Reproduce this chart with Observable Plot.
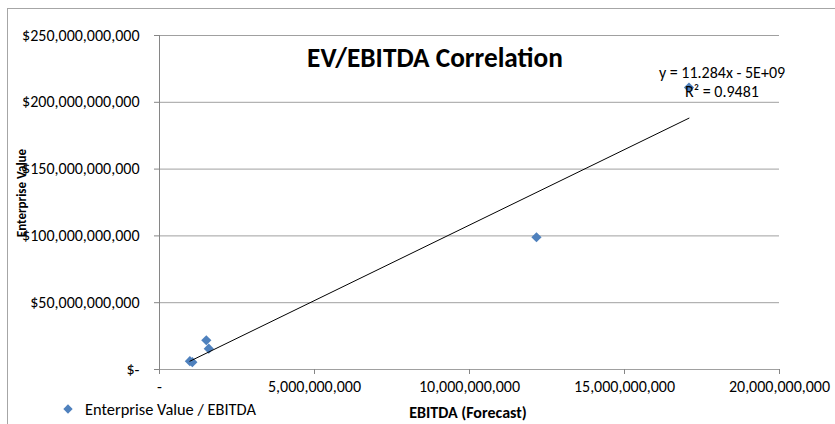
<!DOCTYPE html>
<html>
<head>
<meta charset="utf-8">
<script src="https://cdn.jsdelivr.net/npm/d3@7"></script>
<script src="https://cdn.jsdelivr.net/npm/@observablehq/plot@0.6"></script>
<style>
  html, body { margin: 0; padding: 0; background: #fff; }
  #wrap { position: relative; width: 835px; height: 424px; overflow: hidden; font-family: Carlito, Calibri, Lato, sans-serif; color: #000; }
  #border { position: absolute; left: 7px; top: 8px; width: 900px; height: 500px; border: 1px solid #a6a6a6; box-sizing: border-box; }
  .t { position: absolute; white-space: nowrap; line-height: 1; }
  #chart { position: absolute; left: 0; top: 0; }
</style>
</head>
<body>
<div id="wrap">
  <div id="border"></div>
  <div id="chart"></div>
</div>
<script>
// Data
const ebitda = [0.98e9, 1.06e9, 1.51e9, 1.59e9, 12.16e9, 17.08e9];
const enterpriseValue = [6.2e9, 5.5e9, 21.9e9, 15.6e9, 99e9, 211e9];
const xTicks = [0, 5e9, 10e9, 15e9, 20e9];
const yTicks = [0, 50e9, 100e9, 150e9, 200e9, 250e9];
const chartTitle = "EV/EBITDA Correlation";
const xTitle = "EBITDA (Forecast)";
const yTitle = "Enterprise Value";
const seriesName = "Enterprise Value / EBITDA";
const equationLines = ["y = 11.284x - 5E+09", "R² = 0.9481"];

const data = ebitda.map((x, i) => ({x, y: enterpriseValue[i]}));
const fontFamily = "Carlito, Calibri, Lato, sans-serif";
const fmt = d3.format(",");

const plot = Plot.plot({
  width: 835,
  height: 424,
  marginLeft: 159,
  marginRight: 56,
  marginTop: 35,
  marginBottom: 55,
  style: {fontFamily, fontSize: "16px", color: "#000", background: "transparent"},
  x: {domain: [0, 20e9], ticks: xTicks},
  y: {domain: [0, 250e9], ticks: yTicks},
  marks: [
    Plot.gridY(yTicks, {stroke: "#a0a0a0", strokeOpacity: 1}),
    Plot.ruleX([0], {stroke: "#868686"}),
    Plot.axisY(yTicks, {
      tickSize: 5, tickPadding: 15, stroke: "#868686", fontSize: 16,
      tickFormat: d => d === 0 ? "$-" : "$" + fmt(d),
      label: null, fill: "#000"
    }),
    Plot.axisX(xTicks, {
      tickSize: 5, tickPadding: 6, stroke: "#868686", fontSize: 16,
      tickFormat: d => d === 0 ? "-" : fmt(d),
      label: null, fill: "#000"
    }),
    Plot.dot(data, {x: "x", y: "y", symbol: "diamond2", r: 4.6, fill: "#4f81bd", stroke: "none"}),
    Plot.linearRegressionY(data, {x: "x", y: "y", ci: 0, stroke: "#000", strokeWidth: 1})
  ]
});
document.getElementById("chart").appendChild(plot);

const wrap = document.getElementById("wrap");
function addText(txt, css) {
  const d = document.createElement("div");
  d.className = "t";
  d.textContent = txt;
  Object.assign(d.style, css);
  wrap.appendChild(d);
  return d;
}
addText(chartTitle, {left: "435px", top: "58px", transform: "translate(-50%,-50%)", fontWeight: "bold", fontSize: "27.3px"});
addText(equationLines[0], {left: "722px", top: "73px", transform: "translate(-50%,-50%)", fontSize: "16px"});
addText(equationLines[1], {left: "722px", top: "92px", transform: "translate(-50%,-50%)", fontSize: "16px"});
addText(xTitle, {left: "468px", top: "413px", transform: "translate(-50%,-50%)", fontWeight: "bold", fontSize: "16px"});
addText(yTitle, {left: "21px", top: "193px", transform: "translate(-50%,-50%) rotate(-90deg)", fontWeight: "bold", fontSize: "13px"});
addText(seriesName, {left: "85px", top: "409px", transform: "translate(0,-50%)", fontSize: "16.4px"});
// legend marker
const ns = "http://www.w3.org/2000/svg";
const sv = document.createElementNS(ns, "svg");
sv.setAttribute("width", "14"); sv.setAttribute("height", "14");
sv.style.position = "absolute"; sv.style.left = "61px"; sv.style.top = "402px";
const p = document.createElementNS(ns, "path");
p.setAttribute("d", d3.symbol(d3.symbolDiamond2, Math.PI * 4.2 * 4.2)());
p.setAttribute("transform", "translate(7,7)");
p.setAttribute("fill", "#4f81bd");
sv.appendChild(p);
wrap.appendChild(sv);
</script>
</body>
</html>
